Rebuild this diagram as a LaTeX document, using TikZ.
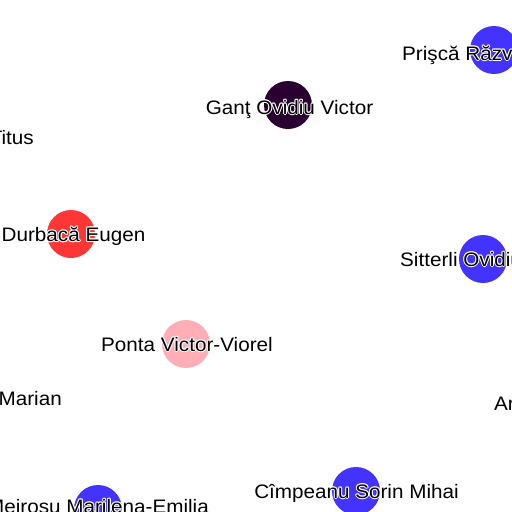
\documentclass[tikz,border=0pt]{standalone}
\usepackage{fontspec}
\newfontfamily\namefont[FakeStretch=1.06]{Liberation Sans}
\usepackage{tikz}
\usetikzlibrary{calc}
\definecolor{bluex}{HTML}{4433FF}
\definecolor{plumx}{HTML}{2A0030}
\definecolor{redx}{HTML}{FF3636}
\definecolor{pinkx}{HTML}{FFAEB7}
\tikzset{
  pers/.style={circle,inner sep=0pt,minimum size=48pt,draw=none},
  nm/.style={font={\namefont\fontsize{19.5}{21}\selectfont},inner sep=0pt},
  halo/.style={nm,text=white}
}
% #1 node name, #2 anchor, #3 position, #4 text
\newcommand{\namelabel}[4]{%
  \foreach \hx/\hy in {-1/0,1/0,0/-1,0/1,-.7/-.7,.7/.7,-.7/.7,.7/-.7}
    \node[halo,anchor=#2] at ($(#3)+(\hx pt,\hy pt)$) {#4};
  \node[nm,anchor=#2] (#1) at (#3) {#4};}

\begin{document}
\begin{tikzpicture}[x=1pt,y=-1pt]
\useasboundingbox (0,0) rectangle (512,512);
\clip (0,0) rectangle (512,512);
% people
\node[pers,fill=bluex] (prisca) at (494,50) {};
\node[pers,fill=plumx] (gant) at (288,105) {};
\node[pers,fill=redx] (durbaca) at (71,234) {};
\node[pers,fill=bluex] (sitterli) at (483,259) {};
\node[pers,fill=pinkx] (ponta) at (186,344) {};
\node[pers,fill=bluex] (meirosu) at (98,509) {};
\node[pers,fill=bluex] (campeanu) at (356,491) {};
% names
\namelabel{lprisca}{base west}{402,60}{Prişcă Răzvan}
\namelabel{lgant}{base}{289.5,114}{Ganţ Ovidiu Victor}
\namelabel{ltitus}{base east}{34,144}{Titus}
\namelabel{ldurbaca}{base}{73.5,241.5}{Durbacă Eugen}
\namelabel{lsitterli}{base west}{400,266}{Sitterli Ovidiu}
\namelabel{lponta}{base}{187,351}{Ponta Victor-Viorel}
\namelabel{lmarian}{base east}{62,405}{Marian}
\namelabel{lar}{base west}{494,410}{Ar}
\namelabel{lcampeanu}{base}{356.5,498}{Cîmpeanu Sorin Mihai}
\namelabel{lmeirosu}{base}{98,513}{Meirosu Marilena-Emilia}
\end{tikzpicture}
\end{document}
